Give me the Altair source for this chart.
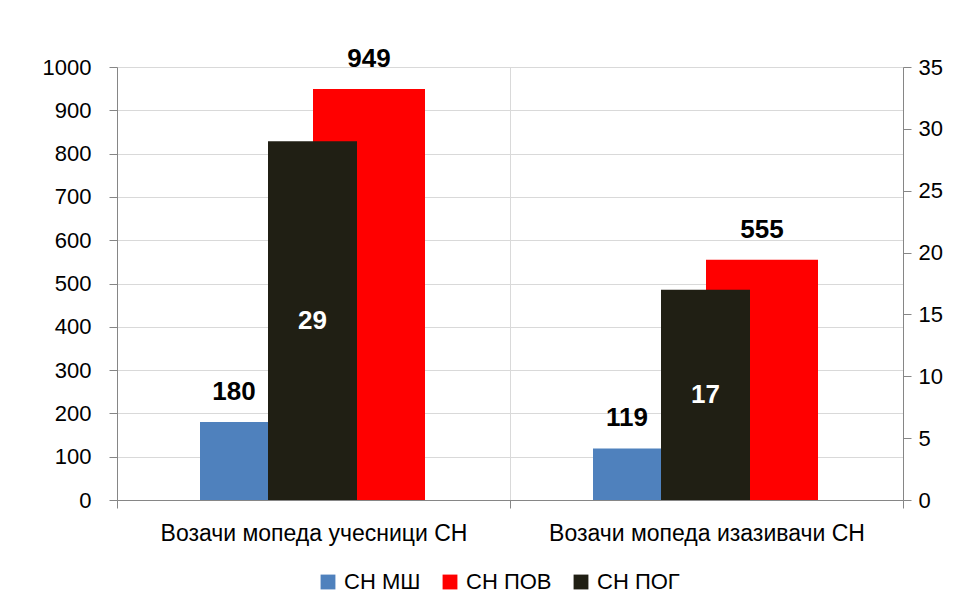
import altair as alt
import pandas as pd

categories = ["Возачи мопеда учесници СН", "Возачи мопеда изазивачи СН"]
series_names = ["СН МШ", "СН ПОВ", "СН ПОГ"]
colors = ["#4F81BD", "#FF0000", "#201F14"]
sn_msh = [180, 119]
sn_pov = [949, 555]
sn_pog = [29, 17]
left_ticks = list(range(0, 1001, 100))
right_ticks = list(range(0, 36, 5))

rows = []
for i, c in enumerate(categories):
    rows.append({"category": c, "series": series_names[0], "value": sn_msh[i]})
    rows.append({"category": c, "series": series_names[1], "value": sn_pov[i]})
    rows.append({"category": c, "series": series_names[2], "value": sn_pog[i]})
df = pd.DataFrame(rows)

FONT = "Liberation Sans"
GRID = "#D9D9D9"
AX = "#868686"

color = alt.Color(
    "series:N",
    scale=alt.Scale(domain=series_names, range=colors),
    legend=alt.Legend(
        title=None, orient="none", direction="horizontal",
        legendX=200, legendY=504, symbolType="square", symbolSize=220,
        symbolStrokeWidth=0, labelFontSize=22, labelFont=FONT, labelColor="black",
        columnPadding=18, labelOffset=5,
    ),
)

x_axis = alt.Axis(title=None, labelAngle=0, tickBand="extent", grid=True,
                  gridColor=GRID, domainColor=AX, tickColor=AX, tickSize=8,
                  labelPadding=14, labelFontSize=23, labelFont=FONT,
                  labelColor="black", labelLimit=420)
x_enc = alt.X("category:N", sort=categories,
              scale=alt.Scale(paddingInner=0, paddingOuter=0), axis=x_axis)

left_axis = alt.Axis(title=None, values=left_ticks, format="d", grid=True,
                     gridColor=GRID, domainColor=AX, tickColor=AX,
                     tickSize=8, labelPadding=18, labelFontSize=22,
                     labelFont=FONT, labelColor="black")
y_left = alt.Y("value:Q", scale=alt.Scale(domain=[0, 1000]), axis=left_axis)

right_axis = alt.Axis(title=None, orient="right", values=right_ticks,
                      format="d", grid=False, domainColor=AX, tickColor=AX,
                      tickSize=8, labelPadding=7, labelFontSize=22,
                      labelFont=FONT, labelColor="black")
y_right = alt.Y("value:Q", scale=alt.Scale(domain=[0, 35]), axis=right_axis)
y_right_mid = alt.Y("mid:Q", scale=alt.Scale(domain=[0, 35]), axis=right_axis)

base = alt.Chart(df)

blue = base.transform_filter(alt.datum.series == "СН МШ").mark_bar(
    width=68, xOffset=-79.5).encode(x=x_enc, y=y_left, color=color)
red = base.transform_filter(alt.datum.series == "СН ПОВ").mark_bar(
    width=112, xOffset=55.5).encode(x=x_enc, y=y_left, color=color)
blue_t = base.transform_filter(alt.datum.series == "СН МШ").mark_text(
    xOffset=-79.5, dy=-22, baseline="alphabetic", fontSize=26,
    fontWeight="bold", font=FONT, color="black").encode(
    x=x_enc, y=y_left, text="value:Q")
red_t = base.transform_filter(alt.datum.series == "СН ПОВ").mark_text(
    xOffset=55.5, dy=-22, baseline="alphabetic", fontSize=26,
    fontWeight="bold", font=FONT, color="black").encode(
    x=x_enc, y=y_left, text="value:Q")

primary = alt.layer(blue, red, blue_t, red_t)

black = base.transform_filter(alt.datum.series == "СН ПОГ").mark_bar(
    width=89, xOffset=-1).encode(x=x_enc, y=y_right, color=color)
black_t = base.transform_filter(alt.datum.series == "СН ПОГ").transform_calculate(
    mid="datum.value / 2").mark_text(
    xOffset=-1, baseline="middle", fontSize=26, fontWeight="bold",
    font=FONT, color="white").encode(x=x_enc, y=y_right_mid, text="value:Q")

secondary = alt.layer(black, black_t)

chart = alt.layer(primary, secondary).resolve_scale(y="independent").properties(
    width=786, height=433,
    autosize=alt.AutoSizeParams(type="none"),
    padding={"left": 109, "top": 59, "right": 43, "bottom": 100},
).configure_view(strokeWidth=0).configure(background="white")

chart.save("out.html", embed_options={"renderer": "svg", "actions": False})
